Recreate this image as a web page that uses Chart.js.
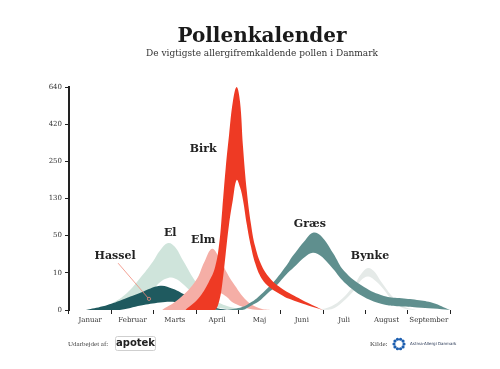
<!DOCTYPE html>
<html lang="da">
<head>
<meta charset="UTF-8">
<title>Pollenkalender</title>
<script src="https://cdn.jsdelivr.net/npm/chart.js"></script>
<style>
  body { margin: 0; background: #fff; }
  #wrap { width: 500px; height: 369px; }
</style>
</head>
<body>
<div id="wrap"><canvas id="pollen"></canvas></div>
<script>
// måneder og akse-etiketter
const maaneder = ["Januar", "Februar", "Marts", "April", "Maj", "Juni", "Juli", "August", "September"];
const yEtiketter = ["0", "10", "50", "130", "250", "420", "640"];

// x = måned (0 = start januar), y = trin på aksen (0..6, ét trin pr. etiket)
const hasselX  = [0.4, 0.8, 1.2, 1.7, 2.15, 2.45, 2.8, 3.2, 3.5, 3.8];
const hasselHi = [0, 0.1, 0.25, 0.47, 0.65, 0.57, 0.37, 0.15, 0.05, 0];
const hasselLo = [0, 0, 0, 0.12, 0.2, 0.22, 0.15, 0.05, 0.01, 0];

const elX  = [0.3, 0.7, 1.0, 1.37, 1.68, 1.98, 2.15, 2.34, 2.5, 2.69, 3.02, 3.33, 3.7, 4.2];
const elHi = [0, 0.03, 0.17, 0.46, 0.86, 1.3, 1.6, 1.8, 1.7, 1.34, 0.72, 0.35, 0.12, 0];
const elLo = [0, 0, 0, 0.1, 0.3, 0.55, 0.75, 0.86, 0.85, 0.7, 0.35, 0.12, 0.03, 0];

const elmX  = [2.2, 2.6, 3.0, 3.2, 3.38, 3.55, 3.73, 3.87, 4.2, 4.5, 4.8];
const elmHi = [0, 0.3, 0.8, 1.3, 1.65, 1.4, 1.0, 0.74, 0.25, 0.05, 0];
const elmLo = [0, 0, 0, 0, 0.3, 0.45, 0.35, 0.2, 0.05, 0, 0];

const birkX  = [2.75, 3.05, 3.3, 3.45, 3.55, 3.62, 3.7, 3.78, 3.87, 3.96, 4.04, 4.11, 4.2, 4.3, 4.4, 4.55, 4.75, 5.0, 5.2, 5.65, 6.0];
const birkHi = [0, 0.3, 0.75, 1.15, 1.8, 2.7, 3.8, 4.7, 5.6, 6.0, 5.6, 4.4, 3.2, 2.3, 1.7, 1.2, 0.85, 0.6, 0.46, 0.19, 0];
const birkLo = [0, 0, 0, 0, 0.25, 0.7, 1.5, 2.3, 2.96, 3.5, 3.3, 2.96, 2.3, 1.7, 1.25, 0.85, 0.6, 0.42, 0.3, 0.12, 0];

const graesX  = [3.73, 4.09, 4.32, 4.47, 4.7, 4.87, 5.17, 5.27, 5.58, 5.76, 5.95, 6.24, 6.5, 6.97, 7.44, 7.8, 8.22, 8.6, 9.0];
const graesHi = [0, 0.08, 0.22, 0.35, 0.6, 0.8, 1.25, 1.43, 1.88, 2.08, 2.0, 1.53, 1.05, 0.62, 0.38, 0.32, 0.27, 0.19, 0];
const graesLo = [0, 0, 0.13, 0.22, 0.46, 0.62, 1.0, 1.1, 1.43, 1.54, 1.45, 1.1, 0.75, 0.35, 0.15, 0.1, 0.07, 0.04, 0];

const bynkeX  = [5.9, 6.2, 6.45, 6.75, 6.9, 7.06, 7.2, 7.4, 7.65, 7.9, 8.2];
const bynkeHi = [0, 0.1, 0.3, 0.7, 0.97, 1.13, 1.05, 0.72, 0.35, 0.1, 0];
const bynkeLo = [0, 0.02, 0.2, 0.55, 0.8, 0.9, 0.82, 0.6, 0.25, 0.05, 0];

function punkter(xs, ys) {
  return xs.map((x, i) => ({ x: x, y: ys[i] }));
}

// to datasæt pr. pollen: øvre kant fylder ned til nedre kant
function baand(navn, xs, hi, lo, farve) {
  return [
    { label: navn, data: punkter(xs, hi), backgroundColor: farve, borderWidth: 0, fill: '+1' },
    { label: navn + ' lav', data: punkter(xs, lo), borderWidth: 0, fill: false }
  ];
}

// øverst i listen tegnes øverst
const datasets = [
  ...baand("Birk", birkX, birkHi, birkLo, "#ee3a24"),
  ...baand("Græs", graesX, graesHi, graesLo, "#5f8f8e"),
  ...baand("Bynke", bynkeX, bynkeHi, bynkeLo, "#e5eae8"),
  ...baand("Elm", elmX, elmHi, elmLo, "#f5aea6"),
  ...baand("Hassel", hasselX, hasselHi, hasselLo, "#1f5a5f"),
  ...baand("El", elX, elHi, elLo, "#cfe4db")
];

const serif = "'DejaVu Serif', serif";

const tekster = {
  id: 'tekster',
  afterDraw(chart) {
    const ctx = chart.ctx;
    const xs = chart.scales.x, ys = chart.scales.y;
    const px = v => xs.getPixelForValue(v);
    const py = v => ys.getPixelForValue(v);
    ctx.save();
    ctx.textAlign = 'center';
    ctx.textBaseline = 'middle';

    ctx.fillStyle = '#1a1a1a';
    ctx.font = "bold 20px " + serif;
    ctx.fillText("Pollenkalender", 262, 37);
    ctx.fillStyle = '#333';
    ctx.font = "9px " + serif;
    ctx.fillText("De vigtigste allergifremkaldende pollen i Danmark", 262, 54);

    // navne på kurverne
    ctx.fillStyle = '#222';
    ctx.font = "bold 11px " + serif;
    [["Hassel", 1.09, 1.45], ["El", 2.39, 2.07], ["Elm", 3.17, 1.88],
     ["Birk", 3.17, 4.34], ["Græs", 5.69, 2.31], ["Bynke", 7.11, 1.45]].forEach(t => {
      ctx.fillText(t[0], px(t[1]), py(t[2]));
    });

    // pil til hassel
    ctx.strokeStyle = '#f08a7a';
    ctx.lineWidth = 0.8;
    ctx.beginPath();
    ctx.moveTo(px(1.16), py(1.26));
    ctx.lineTo(px(1.87), py(0.32));
    ctx.stroke();
    ctx.beginPath();
    ctx.arc(px(1.89), py(0.3), 1.6, 0, Math.PI * 2);
    ctx.stroke();

    // bundtekst
    ctx.fillStyle = '#444';
    ctx.font = "7px 'Liberation Serif', serif";
    ctx.textAlign = 'left';
    ctx.fillText("Udarbejdet af:", 68, 344);
    ctx.fillText("Kilde:", 370, 344);

    ctx.strokeStyle = '#cfcfcf';
    ctx.lineWidth = 1;
    ctx.beginPath();
    ctx.roundRect(115.5, 336.5, 40, 14, 2);
    ctx.stroke();
    ctx.fillStyle = '#222';
    ctx.font = "bold 10px 'DejaVu Sans', sans-serif";
    ctx.textAlign = 'center';
    ctx.fillText("apotek", 135.5, 343.5);

    // logo: ring af blå prikker
    ctx.fillStyle = '#1d5fb0';
    for (let i = 0; i < 10; i++) {
      const a = i / 10 * Math.PI * 2;
      ctx.beginPath();
      ctx.arc(399 + Math.cos(a) * 5, 344 + Math.sin(a) * 5, 1.6, 0, Math.PI * 2);
      ctx.fill();
    }
    ctx.fillStyle = '#1a2a4a';
    ctx.font = "4px 'DejaVu Sans', sans-serif";
    ctx.textAlign = 'left';
    ctx.fillText("Astma-Allergi Danmark", 410, 344);
    ctx.restore();
  }
};

new Chart(document.getElementById('pollen'), {
  type: 'line',
  data: { datasets: datasets },
  options: {
    responsive: true,
    maintainAspectRatio: false,
    animation: false,
    layout: { padding: { top: 87, left: 39, right: 50, bottom: 39 } },
    elements: {
      point: { radius: 0, hoverRadius: 0 },
      line: { tension: 0.4 }
    },
    plugins: {
      legend: { display: false },
      tooltip: { enabled: false },
      filler: { propagate: false }
    },
    scales: {
      x: {
        type: 'linear', min: 0, max: 9, display: false
      },
      xm: {
        type: 'category', labels: maaneder, position: 'bottom', offset: true,
        grid: { offset: true, drawOnChartArea: false, tickLength: 4, color: '#222', lineWidth: 1 },
        border: { display: false },
        ticks: { color: '#333', font: { family: serif, size: 7 }, padding: 2, maxRotation: 0, autoSkip: false },
        afterFit(scale) { scale.height = 20; }
      },
      y: {
        type: 'linear', min: 0, max: 6,
        grid: { drawOnChartArea: false, tickLength: 4, color: '#222' },
        border: { color: '#222', width: 2 },
        ticks: {
          stepSize: 1, color: '#333', font: { family: serif, size: 7 }, padding: 3,
          callback: v => yEtiketter[v]
        },
        afterFit(scale) { scale.width = 30; }
      }
    }
  },
  plugins: [tekster]
});
</script>
</body>
</html>
